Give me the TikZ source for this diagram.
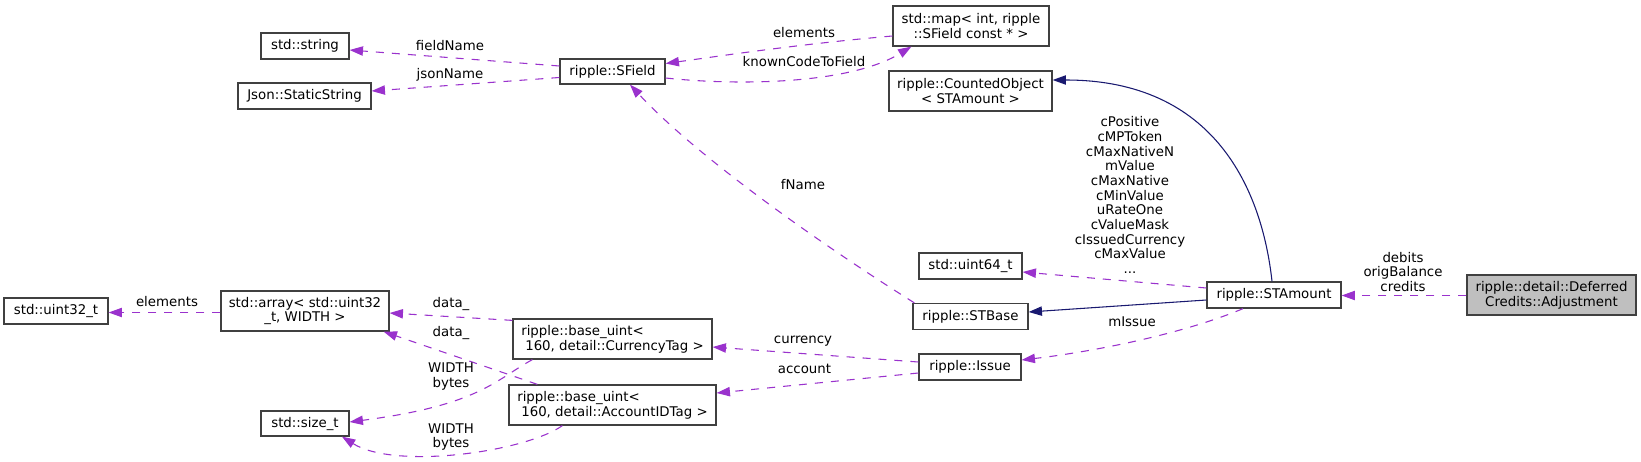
\documentclass[tikz,border=0pt]{standalone}
\usepackage{fontspec}
\setmainfont{DejaVu Sans}
\usetikzlibrary{arrows.meta,calc}
\definecolor{depcol}{HTML}{9A32CD}
\definecolor{inhcol}{HTML}{191970}
\definecolor{rootfill}{HTML}{BFBFBF}
\definecolor{bordercol}{HTML}{404040}
\begin{document}
\begin{tikzpicture}[x=0.75pt,y=-0.75pt,
  every node/.style={font=\fontsize{10}{11}\selectfont},
  box/.style={draw=bordercol, line width=0.95pt, fill=white, inner sep=0pt, align=center},
  boxa/.style={box, minimum height=19.5pt},
  boxb/.style={box, minimum height=30pt},
  lbl/.style={inner sep=0pt, align=center, text=black},
  usage/.style={draw=depcol, dash pattern=on 6pt off 6pt, line width=0.8pt, -{Triangle[length=10pt,width=7pt]}},
  inherit/.style={draw=inhcol, line width=0.8pt, -{Triangle[length=10pt,width=7pt]}}]
\fill[white] (0,0) rectangle (1641,461);
\useasboundingbox (0,0) rectangle (1641,461);

% nodes
\node[boxa, minimum width=66pt] (string) at (305,46) {std::string};
\node[boxa, minimum width=99.75pt] (json) at (304.5,96) {Json::StaticString};
\node[boxa, minimum width=78.75pt, minimum height=18.75pt] (sfield) at (612.5,71.5) {ripple::SField};
\node[boxb, minimum width=117pt] (map) at (971,26) {std::map< int, ripple\\::SField const * >};
\node[boxb, minimum width=122.25pt] (counted) at (970.5,91) {ripple::CountedObject\\< STAmount >};
\node[boxa, minimum width=77.25pt] (u64) at (970.5,266) {std::uint64\_t};
\node[boxa, minimum width=86.25pt] (stbase) at (970.5,316.5) {ripple::STBase};
\node[boxa, minimum width=100.5pt] (stamount) at (1274,295) {ripple::STAmount};
\node[boxb, minimum width=126.75pt, fill=rootfill] (adj) at (1551.5,295) {ripple::detail::Deferred\\Credits::Adjustment};
\node[boxa, minimum width=78pt] (u32) at (56,311) {std::uint32\_t};
\node[boxb, minimum width=126pt] (array) at (305,311) {std::array< std::uint32\\\_t, WIDTH >};
\node[boxb, minimum width=149.25pt, align=left] (cur) at (612.5,339) {ripple::base\_uint<\\\hspace*{0.3em}160, detail::CurrencyTag >};
\node[boxb, minimum width=155.25pt, align=left] (acc) at (612.5,405) {ripple::base\_uint<\\\hspace*{0.3em}160, detail::AccountIDTag >};
\node[boxa, minimum width=66pt, minimum height=18.75pt] (sizet) at (305,423.5) {std::size\_t};
\node[boxa, minimum width=76.5pt] (issue) at (970,367) {ripple::Issue};

% edges
\draw[usage] ($(sfield.west)+(0,-5.5)$) -- ($(string.east)+(0,4)$)
  node[lbl, at={(450,46)}] (l1) {fieldName};
\draw[usage] ($(sfield.west)+(0,6)$) -- ($(json.east)+(0,-5)$)
  node[lbl, at={(450,75)}] (l2) {jsonName};
\draw[usage] ($(map.west)+(0,10)$) .. controls (800,44) and (720,56) .. ($(sfield.east)+(0,-8)$)
  node[lbl, at={(804,33)}] (l3) {elements};
\draw[usage] ($(sfield.east)+(0,6.5)$) .. controls (740,86) and (850,84) .. ($(map.south west)+(19,0)$)
  node[lbl, at={(804,62)}] (l4) {knownCodeToField};
\draw[usage] ($(stbase.north west)+(2,0)$) .. controls (830,250) and (700,160) .. ($(sfield.south)+(17.5,0)$)
  node[lbl, at={(803,185)}] (l5) {fName};
\draw[inherit] ($(stamount.north)+(-2,0)$) .. controls (1262,190) and (1215,80) .. ($(counted.east)+(0,-11)$);
\draw[inherit] ($(stamount.west)+(0,5)$) -- ($(stbase.east)+(0,-4.5)$);
\draw[usage] ($(stamount.west)+(0,-7)$) -- ($(u64.east)+(0,6)$)
  node[lbl, at={(1130,195)}] (l6) {cPositive\\cMPToken\\cMaxNativeN\\mValue\\cMaxNative\\cMinValue\\uRateOne\\cValueMask\\cIssuedCurrency\\cMaxValue\\...};
\draw[usage] ($(stamount.south)+(-31,0)$) .. controls (1180,335) and (1090,352) .. ($(issue.east)+(0,-7)$)
  node[lbl, at={(1132,322)}] (l7) {mIssue};
\draw[usage] ($(adj.west)+(0,0.5)$) -- ($(stamount.east)+(0,0.5)$)
  node[lbl, at={(1403,272)}] (l8) {debits\\origBalance\\credits};
\draw[usage] ($(array.west)+(0,1.5)$) -- ($(u32.east)+(0,1.5)$)
  node[lbl, at={(167,302)}] (l9) {elements};
\draw[usage] ($(cur.north west)+(0,2)$) -- ($(array.east)+(0,2)$)
  node[lbl, at={(451,304)}] (l10) {data\_};
\draw[usage] ($(acc.north west)+(29,0)$) -- ($(array.south east)+(-6,0)$)
  node[lbl, at={(451,333)}] (l11) {data\_};
\draw[usage] ($(cur.south west)+(20,0)$) .. controls (495,380) and (480,405) .. ($(sizet.east)+(0,-1.5)$)
  node[lbl, at={(451,376.5)}] (l12) {WIDTH\\bytes};
\draw[usage] ($(acc.south west)+(54,0)$) .. controls (525,452) and (395,470) .. ($(sizet.south)+(37,0)$)
  node[lbl, at={(451,437)}] (l13) {WIDTH\\bytes};
\draw[usage] ($(issue.west)+(0,-5)$) -- ($(cur.east)+(0,8)$)
  node[lbl, at={(803,341)}] (l14) {currency};
\draw[usage] ($(issue.west)+(0,6)$) -- ($(acc.east)+(0,-12)$)
  node[lbl, at={(804.5,369)}] (l15) {account};
\end{tikzpicture}
\end{document}
